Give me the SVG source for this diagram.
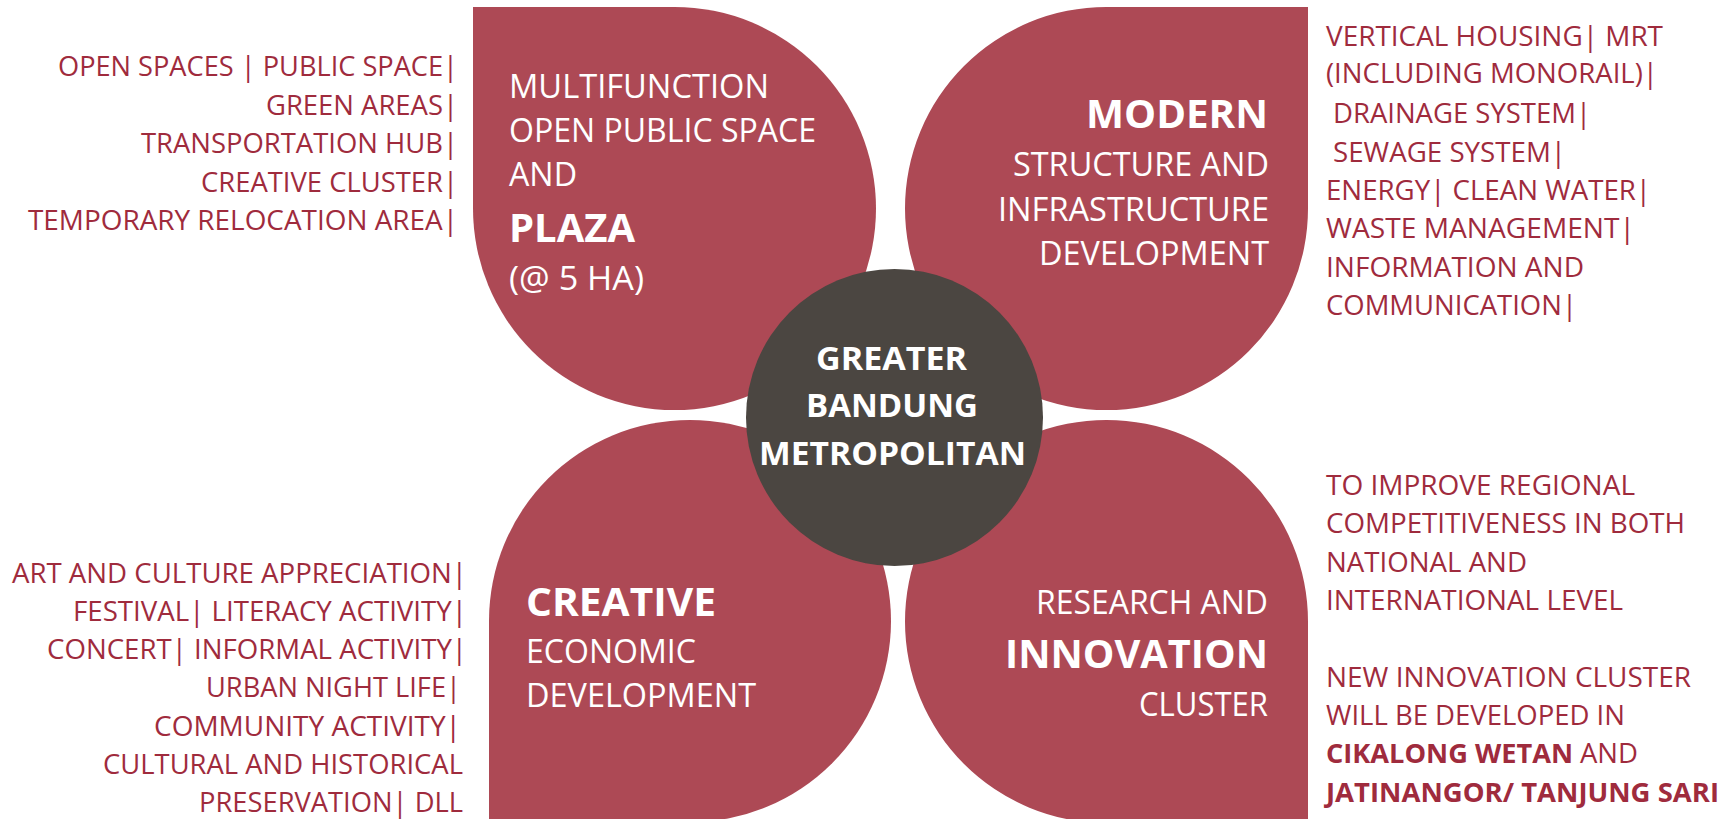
<svg xmlns="http://www.w3.org/2000/svg" width="1734" height="819" viewBox="0 0 1734 819">
<style>
text{font-family:"Open Sans","Noto Sans","Liberation Sans",sans-serif;}
.petal{fill:#AD4955;}
.core{fill:#4B4641;}
.w{fill:#FFFFFF;font-size:32px;}
.wb{fill:#FFFFFF;font-size:39px;font-weight:700;}
.cb{fill:#FFFFFF;font-size:32px;font-weight:700;}
.r{fill:#9F2B3D;font-size:27px;}
.rb{fill:#9F2B3D;font-size:27px;font-weight:700;}
</style>
<rect width="1734" height="819" fill="#FFFFFF"/>
<g id="connectors"/>
<g id="plaza">
<path class="petal" d="M473,7 H674.5 A201.5,201.5 0 0 1 876,208.5 A201.5,201.5 0 0 1 674.5,410 A201.5,201.5 0 0 1 473,208.5 Z"/>
<text class="w" x="509" y="98" textLength="260" lengthAdjust="spacingAndGlyphs">MULTIFUNCTION</text>
<text class="w" x="509" y="142" textLength="307" lengthAdjust="spacingAndGlyphs">OPEN PUBLIC SPACE</text>
<text class="w" x="509" y="186" textLength="68" lengthAdjust="spacingAndGlyphs">AND</text>
<text class="wb" x="509" y="242" textLength="126" lengthAdjust="spacingAndGlyphs">PLAZA</text>
<text class="w" x="509" y="290" textLength="135" lengthAdjust="spacingAndGlyphs">(@ 5 HA)</text>
</g>
<g id="plaza-notes">
<text class="r" x="58" y="76" textLength="400" lengthAdjust="spacingAndGlyphs">OPEN SPACES | PUBLIC SPACE|</text>
<text class="r" x="266" y="115" textLength="192" lengthAdjust="spacingAndGlyphs">GREEN AREAS|</text>
<text class="r" x="141" y="153" textLength="317" lengthAdjust="spacingAndGlyphs">TRANSPORTATION HUB|</text>
<text class="r" x="201" y="192" textLength="257" lengthAdjust="spacingAndGlyphs">CREATIVE CLUSTER|</text>
<text class="r" x="28" y="230" textLength="430" lengthAdjust="spacingAndGlyphs">TEMPORARY RELOCATION AREA|</text>
</g>
<g id="modern">
<path class="petal" d="M1106.5,7 H1308 V208.5 A201.5,201.5 0 0 1 1106.5,410 A201.5,201.5 0 0 1 905,208.5 A201.5,201.5 0 0 1 1106.5,7 Z"/>
<text class="wb" x="1086" y="128" textLength="182" lengthAdjust="spacingAndGlyphs">MODERN</text>
<text class="w" x="1013" y="176" textLength="256" lengthAdjust="spacingAndGlyphs">STRUCTURE AND</text>
<text class="w" x="998" y="221" textLength="271" lengthAdjust="spacingAndGlyphs">INFRASTRUCTURE</text>
<text class="w" x="1039" y="265" textLength="230" lengthAdjust="spacingAndGlyphs">DEVELOPMENT</text>
</g>
<g id="modern-notes">
<text class="r" x="1326" y="46" textLength="337" lengthAdjust="spacingAndGlyphs">VERTICAL HOUSING| MRT</text>
<text class="r" x="1326" y="83" textLength="332" lengthAdjust="spacingAndGlyphs">(INCLUDING MONORAIL)|</text>
<text class="r" x="1333" y="123" textLength="258" lengthAdjust="spacingAndGlyphs">DRAINAGE SYSTEM|</text>
<text class="r" x="1333" y="162" textLength="233" lengthAdjust="spacingAndGlyphs">SEWAGE SYSTEM|</text>
<text class="r" x="1326" y="200" textLength="325" lengthAdjust="spacingAndGlyphs">ENERGY| CLEAN WATER|</text>
<text class="r" x="1326" y="238" textLength="309" lengthAdjust="spacingAndGlyphs">WASTE MANAGEMENT|</text>
<text class="r" x="1326" y="277" textLength="258" lengthAdjust="spacingAndGlyphs">INFORMATION AND</text>
<text class="r" x="1326" y="315" textLength="251" lengthAdjust="spacingAndGlyphs">COMMUNICATION|</text>
</g>
<g id="creative">
<path class="petal" d="M489,621 A201,201 0 0 1 690,420 A201,201 0 0 1 891,621 A201,201 0 0 1 690,822 H489 Z"/>
<text class="wb" x="526" y="616" textLength="190" lengthAdjust="spacingAndGlyphs">CREATIVE</text>
<text class="w" x="526" y="663" textLength="170" lengthAdjust="spacingAndGlyphs">ECONOMIC</text>
<text class="w" x="526" y="707" textLength="230" lengthAdjust="spacingAndGlyphs">DEVELOPMENT</text>
</g>
<g id="creative-notes">
<text class="r" x="12" y="583" textLength="455" lengthAdjust="spacingAndGlyphs">ART AND CULTURE APPRECIATION|</text>
<text class="r" x="73" y="621" textLength="394" lengthAdjust="spacingAndGlyphs">FESTIVAL| LITERACY ACTIVITY|</text>
<text class="r" x="47" y="659" textLength="420" lengthAdjust="spacingAndGlyphs">CONCERT| INFORMAL ACTIVITY|</text>
<text class="r" x="206" y="697" textLength="255" lengthAdjust="spacingAndGlyphs">URBAN NIGHT LIFE|</text>
<text class="r" x="154" y="736" textLength="307" lengthAdjust="spacingAndGlyphs">COMMUNITY ACTIVITY|</text>
<text class="r" x="103" y="774" textLength="360" lengthAdjust="spacingAndGlyphs">CULTURAL AND HISTORICAL</text>
<text class="r" x="199" y="812" textLength="264" lengthAdjust="spacingAndGlyphs">PRESERVATION| DLL</text>
</g>
<g id="innovation">
<path class="petal" d="M1106.5,420 A201.5,201.5 0 0 1 1308,621.5 V823 H1106.5 A201.5,201.5 0 0 1 905,621.5 A201.5,201.5 0 0 1 1106.5,420 Z"/>
<text class="w" x="1036" y="614" textLength="232" lengthAdjust="spacingAndGlyphs">RESEARCH AND</text>
<text class="wb" x="1005" y="668" textLength="263" lengthAdjust="spacingAndGlyphs">INNOVATION</text>
<text class="w" x="1139" y="716" textLength="129" lengthAdjust="spacingAndGlyphs">CLUSTER</text>
</g>
<g id="innovation-notes">
<text class="r" x="1326" y="495" textLength="309" lengthAdjust="spacingAndGlyphs">TO IMPROVE REGIONAL</text>
<text class="r" x="1326" y="533" textLength="359" lengthAdjust="spacingAndGlyphs">COMPETITIVENESS IN BOTH</text>
<text class="r" x="1326" y="572" textLength="201" lengthAdjust="spacingAndGlyphs">NATIONAL AND</text>
<text class="r" x="1326" y="610" textLength="297" lengthAdjust="spacingAndGlyphs">INTERNATIONAL LEVEL</text>
<text class="r" x="1326" y="687" textLength="365" lengthAdjust="spacingAndGlyphs">NEW INNOVATION CLUSTER</text>
<text class="r" x="1326" y="725" textLength="299" lengthAdjust="spacingAndGlyphs">WILL BE DEVELOPED IN</text>
<text class="rb" x="1326" y="763" textLength="247" lengthAdjust="spacingAndGlyphs">CIKALONG WETAN</text>
<text class="r" x="1580" y="763" textLength="58" lengthAdjust="spacingAndGlyphs">AND</text>
<text class="rb" x="1326" y="802" textLength="393" lengthAdjust="spacingAndGlyphs">JATINANGOR/ TANJUNG SARI</text>
</g>
<g id="core">
<circle class="core" cx="894.5" cy="417.5" r="148.5"/>
<text class="cb" x="816" y="370" textLength="151" lengthAdjust="spacingAndGlyphs">GREATER</text>
<text class="cb" x="806" y="417" textLength="172" lengthAdjust="spacingAndGlyphs">BANDUNG</text>
<text class="cb" x="759" y="465" textLength="267" lengthAdjust="spacingAndGlyphs">METROPOLITAN</text>
</g>
</svg>
